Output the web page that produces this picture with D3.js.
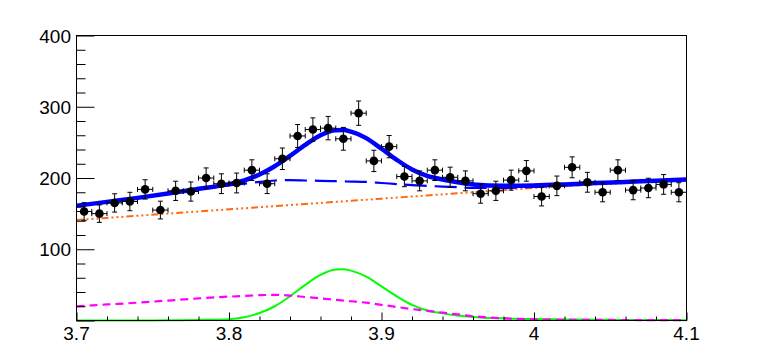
<!DOCTYPE html>
<html>
<head>
<meta charset="utf-8">
<script src="https://cdn.jsdelivr.net/npm/d3@7"></script>
<style>
  body { margin: 0; background: #fff; }
  svg { display: block; }
  text { font-family: "Liberation Sans", Arial, sans-serif; }
</style>
</head>
<body>
<svg id="chart" width="763" height="357"></svg>
<script>
// histogram: 40 bins between 3.70 and 4.10
var binLo = 3.70, binHi = 4.10;
var counts = [153, 150, 165, 167, 184, 155, 182, 181, 200, 192,
              193, 211, 192, 227, 259, 268, 270, 255, 291, 224,
              244, 202, 196, 211, 201, 196, 178, 182, 197, 210,
              174, 189, 215, 194, 180, 211, 183, 186, 191, 180];

// fit components
var curveX = [3.70, 3.72, 3.74, 3.76, 3.78, 3.80, 3.81, 3.82, 3.83, 3.84,
              3.85, 3.86, 3.87, 3.875, 3.88, 3.89, 3.90, 3.91, 3.92, 3.93,
              3.94, 3.95, 3.96, 3.98, 4.00, 4.02, 4.04, 4.06, 4.08, 4.10];
var signal = [0, 0, 0.1, 0.3, 0.8, 1.9, 4.7, 10.5, 20, 34,
              50, 64, 71.5, 72, 70, 61.5, 48, 34, 22, 14,
              10, 7, 5, 3, 2, 1.5, 1.1, 0.8, 0.6, 0.5];
var peaking = [20, 22.5, 25, 28, 31, 33.5, 34.5, 35.5, 36, 35,
               33, 31, 29, 28, 27, 25, 22, 19, 16, 13.5,
               11, 8.5, 6, 3, 1.5, 1, 0.8, 0.7, 0.6, 0.5];
var combinatorial = [141, 144, 147, 150, 153, 156, 157.5, 159, 160.5, 162,
                     163.5, 165, 166.5, 167.2, 168, 169.5, 171, 172.5, 174, 175.5,
                     177, 178.5, 180, 183, 186, 188.5, 191, 193, 195, 197];

var xTicks = [3.7, 3.8, 3.9, 4.0, 4.1];
var yTicks = [100, 200, 300, 400];

var margin = {left: 76.5, right: 76.5, top: 35.5, bottom: 36.5};
var W = 763, H = 357;
var svg = d3.select("#chart");

var x = d3.scaleLinear().domain([3.7, 4.1]).range([margin.left, W - margin.right]);
var y = d3.scaleLinear().domain([0, 400]).range([H - margin.bottom, margin.top]);

var binW = (binHi - binLo) / counts.length;
var points = counts.map(function(c, i) {
    return {x: binLo + binW * (i + 0.5), y: c, err: Math.sqrt(c)};
});

var bkg = curveX.map(function(v, i) { return {x: v, y: combinatorial[i] + peaking[i]}; });
var total = curveX.map(function(v, i) { return {x: v, y: combinatorial[i] + peaking[i] + signal[i]}; });
function pairs(arr) { return curveX.map(function(v, i) { return {x: v, y: arr[i]}; }); }

var line = d3.line()
    .x(function(d) { return x(d.x); })
    .y(function(d) { return y(d.y); })
    .curve(d3.curveMonotoneX);

var plot = svg.append("g");

// components
plot.append("path").datum(pairs(signal))
    .attr("d", line).attr("fill", "none")
    .attr("stroke", "#00ff00").attr("stroke-width", 2);
plot.append("path").datum(pairs(peaking))
    .attr("d", line).attr("fill", "none")
    .attr("stroke", "#ff00ff").attr("stroke-width", 2.2)
    .attr("stroke-dasharray", "8,5");
plot.append("path").datum(pairs(combinatorial))
    .attr("d", line).attr("fill", "none")
    .attr("stroke", "#ff6a10").attr("stroke-width", 2)
    .attr("stroke-dasharray", "7,3,2,3,2,3,2,3");
plot.append("path").datum(bkg)
    .attr("d", line).attr("fill", "none")
    .attr("stroke", "#0000ff").attr("stroke-width", 2.2)
    .attr("stroke-dasharray", "22,8");
plot.append("path").datum(total)
    .attr("d", line).attr("fill", "none")
    .attr("stroke", "#0000ff").attr("stroke-width", 4.5);

// data points with errors
var pts = plot.append("g").attr("stroke", "#000").attr("stroke-width", 1);
points.forEach(function(p) {
    var cx = x(p.x), cy = y(p.y);
    var xl = x(p.x - binW / 2), xr = x(p.x + binW / 2);
    var yt = y(p.y + p.err), yb = y(p.y - p.err);
    pts.append("line").attr("x1", xl).attr("x2", xr).attr("y1", cy).attr("y2", cy);
    pts.append("line").attr("x1", cx).attr("x2", cx).attr("y1", yt).attr("y2", yb);
    pts.append("line").attr("x1", xl).attr("x2", xl).attr("y1", cy - 2.5).attr("y2", cy + 2.5);
    pts.append("line").attr("x1", xr).attr("x2", xr).attr("y1", cy - 2.5).attr("y2", cy + 2.5);
    pts.append("line").attr("x1", cx - 2.5).attr("x2", cx + 2.5).attr("y1", yt).attr("y2", yt);
    pts.append("line").attr("x1", cx - 2.5).attr("x2", cx + 2.5).attr("y1", yb).attr("y2", yb);
    pts.append("circle").attr("cx", cx).attr("cy", cy).attr("r", 4.3)
        .attr("fill", "#000").attr("stroke", "none");
});

// frame
svg.append("rect")
    .attr("x", margin.left).attr("y", margin.top)
    .attr("width", W - margin.left - margin.right)
    .attr("height", H - margin.bottom - margin.top)
    .attr("fill", "none").attr("stroke", "#000").attr("stroke-width", 1);

// y axis ticks inside the frame
var yAxis = d3.axisRight(y).tickValues(d3.range(0, 401, 20)).tickFormat("")
    .tickSize(9).tickSizeOuter(0);
var gy = svg.append("g").attr("transform", "translate(" + margin.left + ",0)").call(yAxis);
gy.select(".domain").remove();
gy.selectAll(".tick line").filter(function(d) { return d % 100 === 0; }).attr("x2", 18);
svg.append("g").selectAll("text").data(yTicks)
    .join("text")
    .attr("x", 71).attr("y", function(d) { return y(d) + 7; })
    .attr("text-anchor", "end").attr("font-size", 19)
    .text(function(d) { return d; });

// x axis ticks inside the frame
var xAxis = d3.axisTop(x).tickValues(d3.range(0, 21).map(function(i) { return 3.7 + i * 0.02; }))
    .tickFormat("").tickSize(4).tickSizeOuter(0);
var gx = svg.append("g").attr("transform", "translate(0," + (H - margin.bottom) + ")").call(xAxis);
gx.select(".domain").remove();
gx.selectAll(".tick line").filter(function(d, i) { return i % 5 === 0; }).attr("y2", -8);
svg.append("g").selectAll("text").data(xTicks)
    .join("text")
    .attr("x", function(d) { return x(d); }).attr("y", 340)
    .attr("text-anchor", "middle").attr("font-size", 19)
    .text(function(d) { return d3.format("~g")(d); });
</script>
</body>
</html>
